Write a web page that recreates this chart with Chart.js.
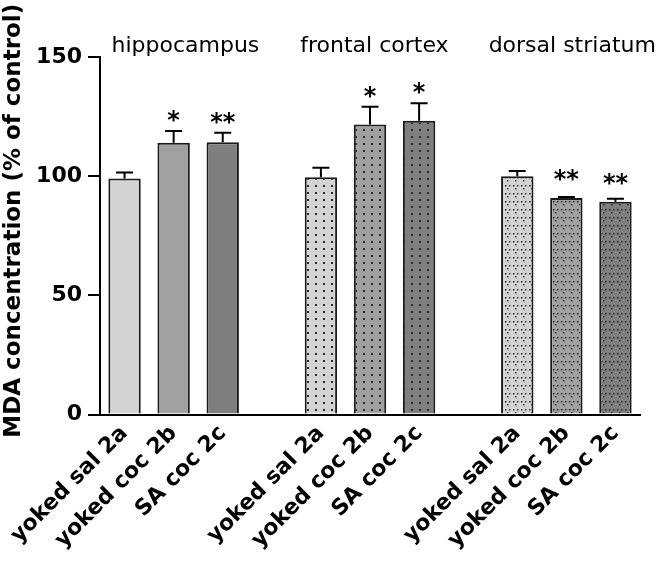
<!DOCTYPE html>
<html>
<head>
<meta charset="utf-8">
<script src="https://cdn.jsdelivr.net/npm/chart.js@4.4.1/dist/chart.umd.min.js"></script>
<style>
  body { margin: 0; background: #fff; }
</style>
</head>
<body>
<canvas id="myChart" width="661" height="563"></canvas>
<script>
// slots 3 and 7 are empty spacers between brain regions
const categories = ['yoked sal 2a', 'yoked coc 2b', 'SA coc 2c', '',
                    'yoked sal 2a', 'yoked coc 2b', 'SA coc 2c', '',
                    'yoked sal 2a', 'yoked coc 2b', 'SA coc 2c'];
const means = [99, 114, 114.2, null, 99.5, 121.7, 123.2, null, 100, 90.8, 89.3];
const sems  = [2.5, 4.9, 4.0, null, 4.0, 7.4, 7.4, null, 2.2, 0.5, 1.2];
const stars = ['', '*', '**', '', '', '*', '*', '', '', '**', '**'];
const regions = ['hippocampus', 'frontal cortex', 'dorsal striatum'];
const regionLabelAt = [1.24, 5.09, 9.12];
const yTitle = 'MDA concentration (% of control)';

const greys = ['#d3d3d3', '#a0a0a0', '#7f7f7f'];

function makePattern(base, kind) {
    if (kind === 'solid') return base;
    const c = document.createElement('canvas');
    const p = c.getContext('2d');
    if (kind === 'dots') {
        c.width = 8; c.height = 7;
        p.fillStyle = base; p.fillRect(0, 0, 8, 7);
        p.fillStyle = '#2a2a2a';
        p.fillRect(3, 3, 2, 2);
    } else {
        c.width = 8; c.height = 8;
        p.fillStyle = base; p.fillRect(0, 0, 8, 8);
        p.fillStyle = '#2a2a2a';
        p.fillRect(1, 1, 1.5, 1.5);
        p.fillRect(5, 1, 1.5, 1.5);
        p.fillRect(3, 4, 1.5, 1.5);
    }
    return p.createPattern(c, 'repeat');
}

document.addEventListener("DOMContentLoaded", () => {
    const ctx = document.getElementById('myChart').getContext('2d');

    const kinds = ['solid', 'solid', 'solid', 'solid', 'dots', 'dots', 'dots', 'dots', 'vees', 'vees', 'vees'];
    const fills = categories.map((c, i) => makePattern(greys[i % 4] || greys[0], kinds[i]));

    const errorBars = {
        id: 'errorBars',
        afterDatasetsDraw(chart) {
            const c = chart.ctx;
            const y = chart.scales.y;
            const meta = chart.getDatasetMeta(0);
            c.save();
            c.strokeStyle = '#000';
            c.lineWidth = 2;
            c.fillStyle = '#000';
            c.font = 'bold 24px "DejaVu Sans"';
            c.textAlign = 'center';
            meta.data.forEach((bar, i) => {
                if (means[i] == null) return;
                const top = y.getPixelForValue(means[i] + sems[i]);
                c.beginPath();
                c.moveTo(bar.x, bar.y);
                c.lineTo(bar.x, top);
                c.moveTo(bar.x - 8.5, top);
                c.lineTo(bar.x + 8.5, top);
                c.stroke();
                // keep the stars clear of very short error bars
                if (stars[i]) c.fillText(stars[i], bar.x, Math.min(top, bar.y - 8) - 3);
            });
            c.restore();
        }
    };

    const extraText = {
        id: 'extraText',
        afterDraw(chart) {
            const c = chart.ctx;
            const x = chart.scales.x;
            const area = chart.chartArea;
            c.save();
            c.fillStyle = '#000';
            c.font = '22px "DejaVu Sans"';
            c.textAlign = 'center';
            regions.forEach((r, k) => {
                c.fillText(r, x.getPixelForValue(regionLabelAt[k]), 52);
            });
            c.font = 'bold 23px "DejaVu Sans"';
            c.translate(14, (area.top + area.bottom) / 2 - 15);
            c.rotate(-Math.PI / 2);
            c.textBaseline = 'middle';
            c.fillText(yTitle, 0, 0);
            c.restore();
        }
    };

    new Chart(ctx, {
        type: 'bar',
        data: {
            labels: categories,
            datasets: [{
                data: means,
                backgroundColor: fills,
                borderColor: '#1a1a1a',
                borderWidth: 2,
                barPercentage: 0.66,
                categoryPercentage: 1
            }]
        },
        options: {
            responsive: false,
            animation: false,
            layout: { padding: { top: 57, right: 21, left: 0, bottom: 0 } },
            plugins: { legend: { display: false }, tooltip: { enabled: false } },
            scales: {
                x: {
                    grid: { display: false, drawTicks: false },
                    border: { display: true, color: '#000', width: 2 },
                    ticks: {
                        autoSkip: false,
                        minRotation: 45,
                        maxRotation: 45,
                        padding: 6,
                        color: '#000',
                        font: { family: 'DejaVu Sans', size: 22, weight: 'bold' }
                    },
                    afterFit(scale) { scale.height = 148.5; }
                },
                y: {
                    min: 0,
                    max: 150,
                    grid: { drawOnChartArea: false, drawTicks: true, tickLength: 12, color: '#000', lineWidth: 2 },
                    border: { display: true, color: '#000', width: 2 },
                    ticks: {
                        stepSize: 50,
                        padding: 6,
                        color: '#000',
                        font: { family: 'DejaVu Sans', size: 22, weight: 'bold' }
                    },
                    afterFit(scale) { scale.width = 100; }
                }
            }
        },
        plugins: [errorBars, extraText]
    });
});
</script>
</body>
</html>
